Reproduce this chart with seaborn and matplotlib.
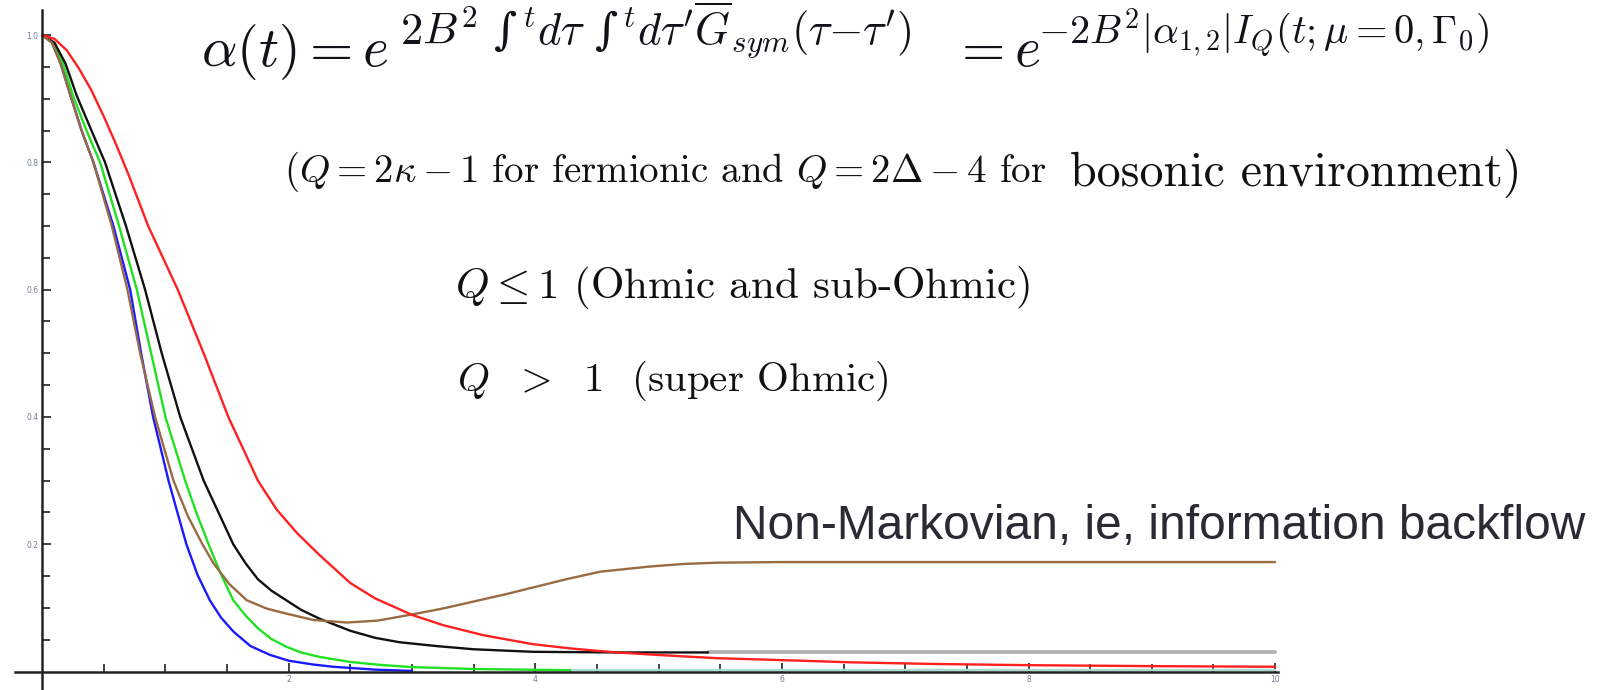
import numpy as np
import pandas as pd
import matplotlib
matplotlib.use("Agg")
import matplotlib.pyplot as plt
from matplotlib.ticker import FixedLocator
import seaborn as sns

# ---- decay curves alpha(t) for several environments ----
t_red = [0, 0.1, 0.2, 0.3, 0.4, 0.5, 0.6, 0.7, 0.86, 1.10, 1.31, 1.51, 1.75, 1.9, 2.07, 2.25,
         2.5, 2.7, 2.85, 3.0, 3.25, 3.58, 3.98, 4.3, 4.66, 5.0, 5.47, 6.16, 6.55, 7.2, 8.0, 9.0, 10.0]
y_red = [1.0, 0.994, 0.976, 0.947, 0.913, 0.872, 0.828, 0.781, 0.70, 0.60, 0.50, 0.40, 0.30, 0.255,
         0.217, 0.183, 0.139, 0.115, 0.102, 0.089, 0.073, 0.057, 0.043, 0.036, 0.030, 0.026, 0.021,
         0.017, 0.0145, 0.012, 0.010, 0.0085, 0.0075]

t_black = [0, 0.1, 0.19, 0.28, 0.4, 0.51, 0.68, 0.835, 0.97, 1.12, 1.31, 1.43, 1.55, 1.65, 1.75,
           1.86, 1.98, 2.1, 2.25, 2.5, 2.7, 2.9, 3.2, 3.5, 3.98, 4.66, 5.40]
y_black = [1.0, 0.988, 0.955, 0.905, 0.85, 0.80, 0.70, 0.60, 0.50, 0.40, 0.30, 0.25, 0.20, 0.17,
           0.145, 0.127, 0.112, 0.097, 0.083, 0.064, 0.053, 0.046, 0.040, 0.035, 0.031, 0.030, 0.030]

t_gray = [5.40, 10.0]
y_gray = [0.030, 0.030]

t_green = [0, 0.09, 0.17, 0.25, 0.36, 0.47, 0.624, 0.768, 0.884, 1.0, 1.16, 1.25, 1.35, 1.45,
           1.55, 1.65, 1.75, 1.86, 1.98, 2.1, 2.25, 2.5, 2.77, 3.0, 3.5, 4.3]
y_green = [1.0, 0.987, 0.955, 0.905, 0.85, 0.80, 0.70, 0.60, 0.50, 0.40, 0.30, 0.25, 0.20, 0.153,
           0.112, 0.088, 0.068, 0.051, 0.039, 0.030, 0.023, 0.015, 0.010, 0.007, 0.004, 0.002]

t_teal = [4.3, 10.0]
y_teal = [0.002, 0.002]

t_blue = [0, 0.08, 0.15, 0.23, 0.32, 0.416, 0.578, 0.714, 0.803, 0.90, 1.025, 1.10, 1.17, 1.26,
          1.36, 1.45, 1.55, 1.69, 1.85, 2.0, 2.2, 2.36, 2.7, 3.0]
y_blue = [1.0, 0.988, 0.955, 0.905, 0.85, 0.80, 0.70, 0.60, 0.50, 0.40, 0.30, 0.248, 0.20, 0.152,
          0.112, 0.085, 0.063, 0.040, 0.026, 0.017, 0.011, 0.0075, 0.003, 0.001]

t_brown = [0, 0.08, 0.15, 0.23, 0.32, 0.416, 0.565, 0.692, 0.795, 0.916, 1.065, 1.18, 1.30, 1.39,
           1.52, 1.66, 1.82, 1.98, 2.2, 2.47, 2.72, 2.98, 3.25, 3.5, 3.75, 3.98, 4.25, 4.53, 4.93,
           5.2, 5.47, 6.0, 6.55, 10.0]
y_brown = [1.0, 0.988, 0.955, 0.905, 0.85, 0.80, 0.70, 0.60, 0.50, 0.40, 0.30, 0.245, 0.20, 0.17,
           0.137, 0.112, 0.099, 0.091, 0.081, 0.077, 0.080, 0.089, 0.099, 0.110, 0.121, 0.132,
           0.145, 0.157, 0.165, 0.169, 0.171, 0.172, 0.172, 0.172]

y_tick_values = [0.2, 0.4, 0.6, 0.8, 1.0]
y_tick_labels = ["0.2", "0.4", "0.6", "0.8", "1.0"]
x_tick_values = [2, 4, 6, 8, 10]
x_tick_labels = ["2", "4", "6", "8", "10"]

series = [
    (t_blue, y_blue, "#1a1aff", 1.7),
    (t_green, y_green, "#22e022", 1.7),
    (t_teal, y_teal, "#a9ddd2", 1.7),
    (t_gray, y_gray, "#b2b2b2", 2.8),
    (t_black, y_black, "#111111", 1.7),
    (t_brown, y_brown, "#9a6a42", 1.7),
    (t_red, y_red, "#ff2020", 1.7),
]

sns.set_theme(style="white")
plt.rcParams["mathtext.fontset"] = "cm"
plt.rcParams["font.family"] = ["DejaVu Sans"]

W, H = 1602, 690
fig = plt.figure(figsize=(W / 100, H / 100), dpi=100)
fig.patch.set_facecolor("white")
ax = fig.add_axes([15 / W, 0, (1277.6 - 15) / W, 679.8 / H])
ax.set_facecolor("white")

for tx, ty, col, lw in series:
    df = pd.DataFrame({"t": tx, "alpha": ty})
    sns.lineplot(data=df, x="t", y="alpha", color=col, linewidth=lw, ax=ax,
                 estimator=None, sort=False, legend=False)

ax.set_xlim(-0.22, 10.02)
ax.set_ylim(-0.029, 1.039)
ax.set_xlabel("")
ax.set_ylabel("")

# Axes crossing at the origin
for side in ("top", "right"):
    ax.spines[side].set_visible(False)
ax.spines["left"].set_position(("data", 0))
ax.spines["bottom"].set_position(("data", 0))
for side in ("left", "bottom"):
    ax.spines[side].set_color("#222222")
    ax.spines[side].set_linewidth(1.8)

ax.yaxis.set_major_locator(FixedLocator(y_tick_values))
ax.set_yticklabels(y_tick_labels)
ax.yaxis.set_minor_locator(FixedLocator([v / 20 for v in range(1, 20) if v % 4 != 0]))
ax.xaxis.set_major_locator(FixedLocator(x_tick_values))
ax.set_xticklabels(x_tick_labels)
ax.xaxis.set_minor_locator(FixedLocator([v / 2 for v in range(1, 21) if v % 4 != 0]))
ax.tick_params(which="both", direction="in", color="#222222", width=1.2,
               labelsize=5.5, labelcolor="#6f7f99", pad=2.5)
ax.tick_params(which="major", length=6.5, left=True, bottom=True)
ax.tick_params(which="minor", length=5.5, left=True, bottom=True)

# Annotations (positions in pixels from the top-left corner)
def ftext(x, y, s, **kw):
    return fig.text(x / W, 1 - y / H, s, **kw)

serif = ["cmr10", "DejaVu Serif"]
ink = "#111118"
ftext(201, 66, r"$\alpha(t)=e$", fontsize=40, color=ink, ha="left", va="baseline")
ftext(400, 44,
      r"$2B^2$ ∫$^{\,t} d\tau$ ∫$^{\,t} d\tau'\overline{G}_{sym}(\tau{-}\tau')$",
      fontsize=32, color=ink, ha="left", va="baseline", family=["DejaVu Serif"])
ftext(952, 66, r"$=e$", fontsize=40, color=ink, ha="left", va="baseline")
ftext(1038, 44, r"$-2B^2|\alpha_{1,2}|I_Q(t;\mu{=}0,\Gamma_0)$",
      fontsize=29, color=ink, ha="left", va="baseline")

ftext(284, 182, r"$(Q=2\kappa-1$ for fermionic and $Q=2\Delta-4$ for",
      fontsize=28, color="#111111", ha="left", va="baseline", family=serif)
ftext(1522, 186, "bosonic environment)",
      fontsize=34.5, color="#111111", ha="right", va="baseline", family=serif)
ftext(455, 298, r"$Q\leq 1$ (Ohmic and sub-Ohmic)",
      fontsize=31, color="#111111", ha="left", va="baseline", family=serif)
ftext(457, 391, r"$Q\ \ >\ \ 1$  (super Ohmic)",
      fontsize=29.5, color="#111111", ha="left", va="baseline", family=serif)
ftext(733, 539, "Non-Markovian, ie, information backflow",
      fontsize=34.5, color="#2a2a33", ha="left", va="baseline",
      family=["Liberation Sans", "DejaVu Sans"])

fig.savefig("out.png", dpi=100, facecolor="white")
